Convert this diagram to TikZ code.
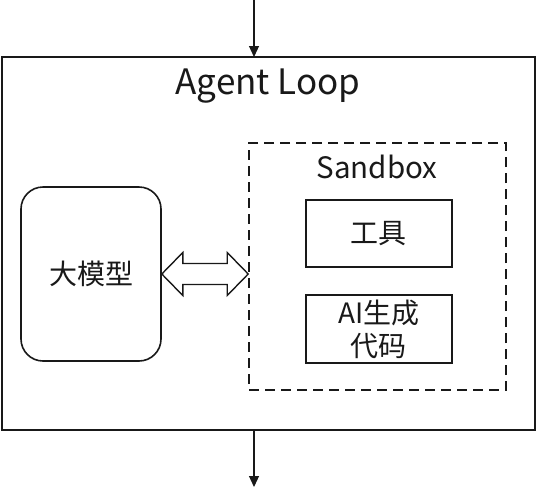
\documentclass[tikz,border=0pt]{standalone}
\usepackage{fontspec}
\setmainfont{Noto Sans CJK SC}
\usetikzlibrary{arrows.meta,calc}
\begin{document}
\begin{tikzpicture}[x=1pt,y=-1pt,
  outerbox/.style={draw=black!90,line width=2pt},
  modelbox/.style={draw=black!90,line width=1.6pt,rounded corners=22pt},
  sandboxbox/.style={draw=black!90,line width=1.6pt,dash pattern=on 10pt off 6pt},
  innerbox/.style={draw=black!90,line width=1.8pt},
  flow/.style={draw=black!90,line width=1.2pt,-{Triangle[length=11pt,width=10pt]}},
  lbl/.style={text=black!90,inner sep=0pt},
]
\useasboundingbox (0,0) rectangle (537,501);
\fill[white] (0,0) rectangle (537,501);
% outer box
\draw[outerbox] (1.5,57) rectangle (535,429.5);
\coordinate (outerN) at (254,57);
\coordinate (outerS) at (254,429.5);
\coordinate (src) at (254,0);
\coordinate (dst) at (254,487);
\node[lbl,font=\fontsize{35}{40}\selectfont] (title) at (268,86) {Agent Loop};
% model box
\node[modelbox,minimum width=140pt,minimum height=174pt,inner sep=0pt] (model) at (91,274) {};
\node[lbl,font=\fontsize{28}{33}\selectfont] (modeltext) at (model.center) {大模型};
% sandbox
\node[sandboxbox,minimum width=257pt,minimum height=247pt,inner sep=0pt] (sandbox) at (377.5,266.5) {};
\node[lbl,font=\fontsize{29.5}{34}\selectfont] (sandboxtext) at (377,167) {Sandbox};
\node[innerbox,minimum width=146pt,minimum height=67pt,inner sep=0pt] (tools) at (378.7,233.6) {};
\node[lbl,font=\fontsize{28}{33}\selectfont] (toolstext) at (tools.center) {工具};
\node[innerbox,minimum width=146pt,minimum height=68pt,inner sep=0pt] (aicode) at (378.7,329.2) {};
\node[lbl,font=\fontsize{28}{33}\selectfont,align=center] (aitext) at (aicode.center) {AI生成\\代码};
% double arrow between model and sandbox
\coordinate (dl) at (model.east);
\coordinate (dr) at (sandbox.west |- model.east);
\draw[draw=black!90,line width=1.4pt,fill=white,line join=miter]
  (dl) -- ($(dl)+(21,-21.5)$) -- ($(dl)+(21,-10.5)$) -- ($(dr)+(-21,-10.5)$) -- ($(dr)+(-21,-21.5)$)
  -- (dr) -- ($(dr)+(-21,21.5)$) -- ($(dr)+(-21,10.5)$) -- ($(dl)+(21,10.5)$) -- ($(dl)+(21,21.5)$) -- cycle;
% in / out arrows
\draw[flow] (src) -- (outerN);
\draw[flow] (outerS) -- (dst);
\end{tikzpicture}
\end{document}
